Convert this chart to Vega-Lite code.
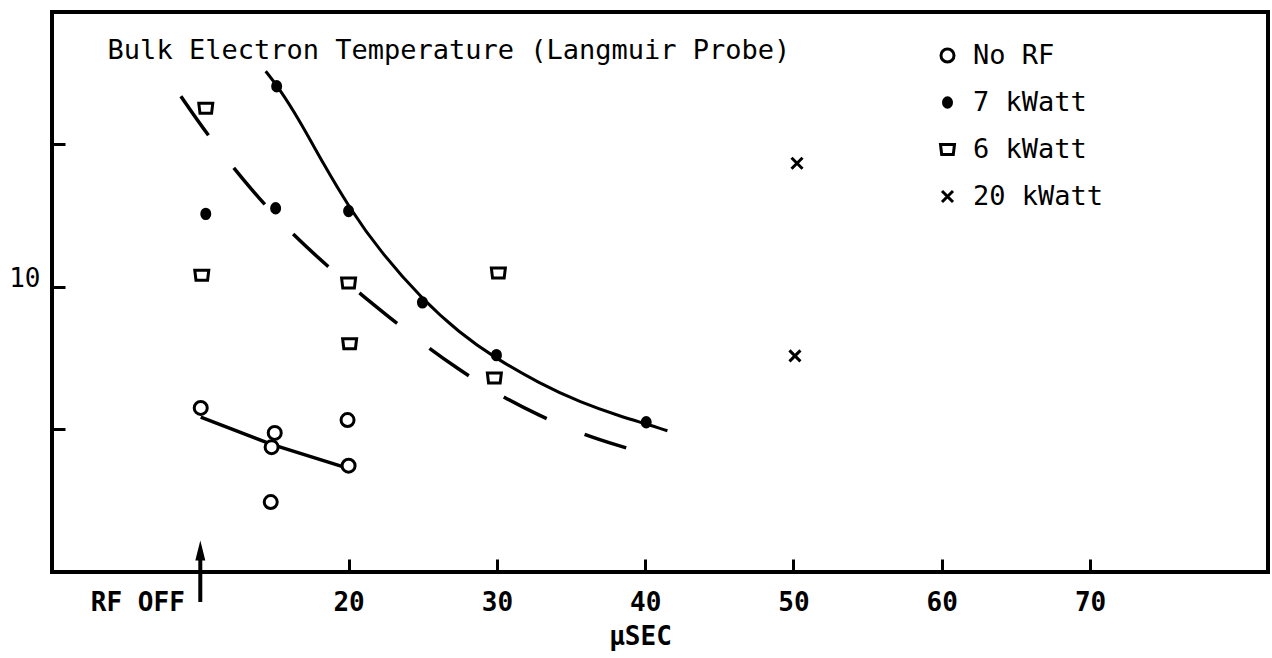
{
  "$schema": "https://vega.github.io/schema/vega-lite/v6.json",
  "width": 1216,
  "height": 560,
  "autosize": {"type": "none"},
  "padding": {"left": 52, "top": 12, "right": 4, "bottom": 86},
  "background": "white",
  "config": {
    "view": {"stroke": "black", "strokeWidth": 4},
    "font": "DejaVu Sans Mono"
  },
  "datasets": {
    "pts": [
      {"series": "No RF", "t": 10.03, "Te": 8.30},
      {"series": "No RF", "t": 15.02, "Te": 7.95},
      {"series": "No RF", "t": 14.81, "Te": 7.75},
      {"series": "No RF", "t": 19.93, "Te": 8.13},
      {"series": "No RF", "t": 20.0, "Te": 7.49},
      {"series": "No RF", "t": 14.75, "Te": 6.98},
      {"series": "7 kWatt", "t": 15.15, "Te": 12.81},
      {"series": "7 kWatt", "t": 10.37, "Te": 11.02},
      {"series": "7 kWatt", "t": 15.08, "Te": 11.10},
      {"series": "7 kWatt", "t": 20.0, "Te": 11.06},
      {"series": "7 kWatt", "t": 24.98, "Te": 9.78},
      {"series": "7 kWatt", "t": 29.97, "Te": 9.04},
      {"series": "7 kWatt", "t": 40.07, "Te": 8.10},
      {"series": "6 kWatt", "t": 10.37, "Te": 12.50},
      {"series": "6 kWatt", "t": 10.1, "Te": 10.16},
      {"series": "6 kWatt", "t": 20.0, "Te": 10.05},
      {"series": "6 kWatt", "t": 20.07, "Te": 9.20},
      {"series": "6 kWatt", "t": 30.1, "Te": 10.19},
      {"series": "6 kWatt", "t": 29.83, "Te": 8.72},
      {"series": "20 kWatt", "t": 50.24, "Te": 11.73},
      {"series": "20 kWatt", "t": 50.1, "Te": 9.03}
    ],
    "curves": [
      {"curve": "fit 7 kWatt", "i": 1, "t": 14.41, "Te": 13.02},
      {"curve": "fit 7 kWatt", "i": 2, "t": 15.22, "Te": 12.81},
      {"curve": "fit 7 kWatt", "i": 3, "t": 16.70, "Te": 12.33},
      {"curve": "fit 7 kWatt", "i": 4, "t": 18.3, "Te": 11.72},
      {"curve": "fit 7 kWatt", "i": 5, "t": 20.07, "Te": 11.10},
      {"curve": "fit 7 kWatt", "i": 6, "t": 22.1, "Te": 10.50},
      {"curve": "fit 7 kWatt", "i": 7, "t": 24.98, "Te": 9.82},
      {"curve": "fit 7 kWatt", "i": 8, "t": 27.5, "Te": 9.35},
      {"curve": "fit 7 kWatt", "i": 9, "t": 29.8, "Te": 9.01},
      {"curve": "fit 7 kWatt", "i": 10, "t": 32.9, "Te": 8.64},
      {"curve": "fit 7 kWatt", "i": 11, "t": 35.6, "Te": 8.38},
      {"curve": "fit 7 kWatt", "i": 12, "t": 38.5, "Te": 8.17},
      {"curve": "fit 7 kWatt", "i": 13, "t": 40.0, "Te": 8.08},
      {"curve": "fit 7 kWatt", "i": 14, "t": 41.5, "Te": 7.98},
      {"curve": "fit No RF", "i": 1, "t": 10.03, "Te": 8.17},
      {"curve": "fit No RF", "i": 2, "t": 14.81, "Te": 7.79},
      {"curve": "fit No RF", "i": 3, "t": 19.87, "Te": 7.46},
      {"curve": "fit 6 kWatt", "i": 1, "t": 8.69, "Te": 12.67},
      {"curve": "fit 6 kWatt", "i": 2, "t": 10.57, "Te": 12.10},
      {"curve": "fit 6 kWatt", "i": 3, "t": 13.54, "Te": 11.33},
      {"curve": "fit 6 kWatt", "i": 4, "t": 16.03, "Te": 10.77},
      {"curve": "fit 6 kWatt", "i": 5, "t": 18.72, "Te": 10.26},
      {"curve": "fit 6 kWatt", "i": 6, "t": 20.61, "Te": 9.93},
      {"curve": "fit 6 kWatt", "i": 7, "t": 24.65, "Te": 9.25},
      {"curve": "fit 6 kWatt", "i": 8, "t": 27.41, "Te": 8.84},
      {"curve": "fit 6 kWatt", "i": 9, "t": 29.97, "Te": 8.50},
      {"curve": "fit 6 kWatt", "i": 10, "t": 32.86, "Te": 8.19},
      {"curve": "fit 6 kWatt", "i": 11, "t": 35.76, "Te": 7.93},
      {"curve": "fit 6 kWatt", "i": 12, "t": 38.72, "Te": 7.74}
    ]
  },
  "encoding": {
    "x": {
      "field": "t",
      "type": "quantitative",
      "scale": {"domain": [0, 82], "nice": false, "zero": false},
      "axis": {
        "values": [10, 20, 30, 40, 50, 60, 70],
        "labelExpr": "datum.value == 10 ? 'RF OFF' : datum.label",
        "labelAlign": {"condition": {"test": "datum.value == 10", "value": "right"}, "value": "center"},
        "labelOffset": {"condition": {"test": "datum.value == 10", "value": -16}, "value": 0},
        "tickOpacity": {"condition": {"test": "datum.value == 10", "value": 0}, "value": 1},
        "domain": false,
        "grid": false,
        "tickSize": -13,
        "tickWidth": 3,
        "tickColor": "black",
        "labelFont": "DejaVu Sans Mono",
        "labelFontSize": 26,
        "labelFontWeight": "bold",
        "labelColor": "black",
        "labelPadding": 43,
        "labelBaseline": "middle",
        "title": "μSEC",
        "titleFont": "DejaVu Sans Mono",
        "titleFontSize": 26,
        "titleFontWeight": "bold",
        "titleColor": "black",
        "titleX": 588,
        "titleY": 64,
        "titleBaseline": "middle"
      }
    },
    "y": {
      "field": "Te",
      "type": "quantitative",
      "scale": {"domain": [6, 13.85], "nice": false, "zero": false},
      "axis": {
        "values": [8, 10, 12],
        "labelExpr": "datum.value == 10 ? '10' : ''",
        "domain": false,
        "grid": false,
        "tickSize": -13,
        "tickWidth": 3,
        "tickColor": "black",
        "labelFont": "DejaVu Sans Mono",
        "labelFontSize": 26,
        "labelColor": "black",
        "labelPadding": 25,
        "labelOffset": -8,
        "title": null
      }
    }
  },
  "layer": [
    {
      "data": {"name": "curves"},
      "transform": [{"filter": "datum.curve == 'fit 7 kWatt'"}],
      "mark": {"type": "line", "color": "black", "strokeWidth": 3, "interpolate": "basis"},
      "encoding": {"order": {"field": "i"}}
    },
    {
      "data": {"name": "curves"},
      "transform": [{"filter": "datum.curve == 'fit No RF'"}],
      "mark": {"type": "line", "color": "black", "strokeWidth": 3.5, "interpolate": "linear"},
      "encoding": {"order": {"field": "i"}}
    },
    {
      "data": {"name": "curves"},
      "transform": [{"filter": "datum.curve == 'fit 6 kWatt'"}],
      "mark": {"type": "line", "color": "black", "strokeWidth": 3.5, "strokeDash": [48, 41], "interpolate": "basis"},
      "encoding": {"order": {"field": "i"}}
    },
    {
      "data": {"name": "pts"},
      "mark": {"type": "point", "filled": true, "strokeWidth": 3, "opacity": 1, "size": 400},
      "encoding": {
        "shape": {
          "field": "series",
          "type": "nominal",
          "scale": {
            "domain": ["No RF", "7 kWatt", "6 kWatt", "20 kWatt"],
            "range": [
              "M-0.65,0A0.65,0.65 0 1,0 0.65,0A0.65,0.65 0 1,0 -0.65,0Z",
              "M-0.4,0A0.4,0.47 0 1,0 0.4,0A0.4,0.47 0 1,0 -0.4,0Z",
              "M-0.7,-0.5L0.7,-0.5L0.58,0.5L-0.58,0.5Z",
              "M-0.55,-0.55L0.55,0.55M0.55,-0.55L-0.55,0.55"
            ]
          },
          "legend": {
            "title": null,
            "orient": "none",
            "legendX": 882,
            "legendY": 30,
            "labelFont": "DejaVu Sans Mono",
            "labelFontSize": 27,
            "labelColor": "black",
            "rowPadding": 19,
            "labelOffset": 12,
            "symbolSize": 400,
            "symbolStrokeWidth": 3
          }
        },
        "fill": {
          "field": "series",
          "type": "nominal",
          "scale": {
            "domain": ["No RF", "7 kWatt", "6 kWatt", "20 kWatt"],
            "range": ["white", "black", "white", "black"]
          }
        },
        "stroke": {
          "field": "series",
          "type": "nominal",
          "scale": {
            "domain": ["No RF", "7 kWatt", "6 kWatt", "20 kWatt"],
            "range": ["black", "black", "black", "black"]
          }
        }
      }
    },
    {
      "data": {"values": [{"t": 10, "Te": 5.58, "Te2": 6.3}]},
      "mark": {"type": "rule", "color": "black", "strokeWidth": 4},
      "encoding": {"y2": {"field": "Te2"}}
    },
    {
      "data": {"values": [{"t": 10, "Te": 6.3}]},
      "mark": {"type": "point", "shape": "M-0.5,1L0,-1L0.5,1Z", "filled": true, "color": "black", "size": 400, "opacity": 1}
    },
    {
      "data": {"values": [{"t": 3.75, "Te": 13.3, "label": "Bulk Electron Temperature (Langmuir Probe)"}]},
      "mark": {"type": "text", "align": "left", "baseline": "middle", "font": "DejaVu Sans Mono", "fontSize": 27, "color": "black"},
      "encoding": {"text": {"field": "label"}}
    }
  ]
}
